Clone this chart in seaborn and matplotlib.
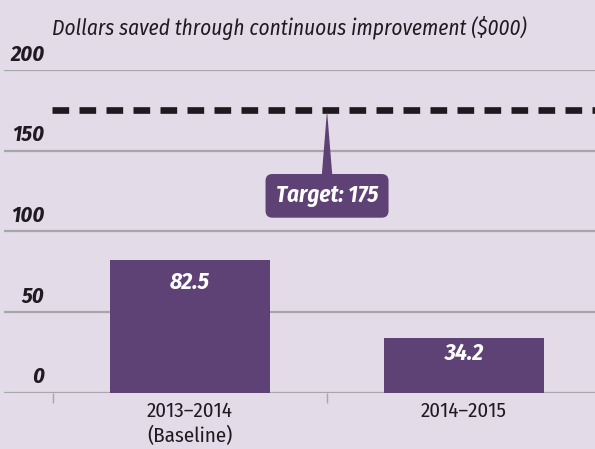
import matplotlib
matplotlib.use("Agg")
import matplotlib.pyplot as plt
import matplotlib.transforms as mtransforms
import seaborn as sns

# --- data ---
periods = ["2013–2014\n(Baseline)", "2014–2015"]
savings = [82.5, 34.2]
target = 175
y_ticks = [0, 50, 100, 150, 200]

# --- style ---
BG = "#e3dbe8"
PURPLE = "#5e4175"
GRID = "#a9a6ab"
TEXT = "#1f1b20"

sns.set_theme(style="white")
plt.rcParams["font.family"] = ["Fira Sans Condensed", "DejaVu Sans"]

fig = plt.figure(figsize=(5.95, 4.49), dpi=100)
fig.patch.set_facecolor(BG)
ax = fig.add_axes([4 / 595, 56.3 / 449, 591 / 595, 322.7 / 449])
ax.set_facecolor(BG)

sns.barplot(x=periods, y=savings, width=0.584, color=PURPLE, saturation=1,
            linewidth=0, edgecolor="none", ax=ax)
ax.set_xlim(-0.679, 1.478)
ax.set_ylim(0, 200)

# gridlines + y labels sitting on top of them
ax.set_axisbelow(True)
ax.set_yticks(y_ticks)
ax.yaxis.grid(True, color=GRID, linewidth=1.6)
ax.tick_params(axis="y", length=0, labelleft=False)
trans = mtransforms.blended_transform_factory(ax.transAxes, ax.transData)
for v in y_ticks:
    ax.annotate(str(v), xy=(0.068, v), xycoords=trans, xytext=(0, 3.5),
                textcoords="offset points", ha="right", va="bottom",
                fontsize=16, fontweight="bold", fontstyle="italic", color=TEXT)

for s in ax.spines.values():
    s.set_visible(False)

# category ticks between groups
ax.set_xticks([-0.5, 0.5], minor=True)
ax.tick_params(axis="x", which="minor", bottom=True, length=7, width=1, color=GRID)
ax.tick_params(axis="x", which="major", length=0, pad=6, labelsize=15, labelcolor=TEXT)
for lbl in ax.get_xticklabels():
    lbl.set_linespacing(1.35)
ax.set_xlabel("")
ax.set_ylabel("")

# value labels inside bars
label_drop = [23, 16]
for i, v in enumerate(savings):
    ax.annotate(f"{v}", xy=(i, v), xytext=(0, -label_drop[i] * 0.72),
                textcoords="offset points", ha="center", va="center",
                fontsize=17, fontweight="bold", fontstyle="italic", color="white")

# target line
ax.axhline(target, xmin=0.081, xmax=1, color="#1e1a1e", linewidth=4.8,
           linestyle=(0, (2.5, 1.55)))
ax.annotate(f"Target: {target}", xy=(0.5, target), xytext=(0.5, 122),
            ha="center", va="center", fontsize=16.5, fontweight="bold",
            fontstyle="italic", color="white",
            bbox=dict(boxstyle="round,pad=0.45,rounding_size=0.3", fc=PURPLE, ec="none"),
            arrowprops=dict(arrowstyle="wedge,tail_width=0.45,shrink_factor=0.5",
                            fc=PURPLE, ec="none", shrinkA=0, shrinkB=0))

fig.text(52 / 595, 1 - 28 / 449, "Dollars saved through continuous improvement ($000)",
         ha="left", va="center", fontsize=15.3, fontstyle="italic", color=TEXT)

fig.savefig("out.png", dpi=100, facecolor=BG)
